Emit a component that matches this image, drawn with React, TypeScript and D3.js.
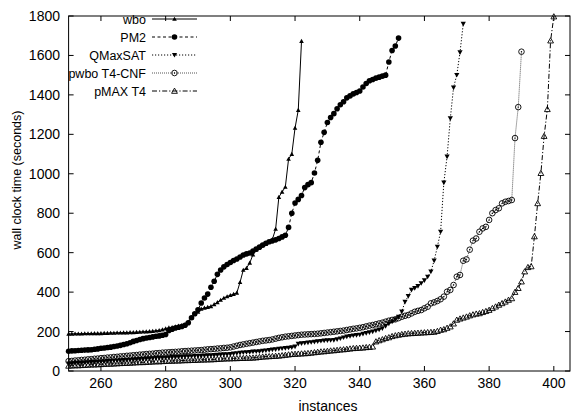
import React from "react";
import * as d3 from "d3";

const START = 250;
const xTicks = [260, 280, 300, 320, 340, 360, 380, 400];
const yTicks = [0, 200, 400, 600, 800, 1000, 1200, 1400, 1600, 1800];

const wbo = [
  188, 188, 189, 189, 189, 190, 190, 190, 191, 191,
  191, 192, 192, 193, 193, 194, 194, 195, 195, 196,
  196, 197, 198, 199, 200, 201, 202, 204, 206, 210,
  215, 220, 222, 226, 229, 232, 236, 250, 270, 288,
  300, 315, 320, 324, 328, 338, 348, 360, 370, 378,
  384, 390, 396, 450, 512, 522, 548, 590, 615, 628,
  638, 645, 655, 668, 720, 882, 908, 933, 1075, 1100,
  1232, 1323, 1673,
];

const pm2 = [
  100, 102, 103, 104, 105, 106, 107, 108, 110, 112,
  115, 117, 119, 121, 124, 127, 130, 134, 138, 143,
  150, 155, 160, 164, 167, 170, 173, 176, 178, 181,
  185, 205, 212, 218, 222, 226, 232, 245, 270, 290,
  310, 345, 370, 390, 425, 455, 490, 512, 528, 540,
  550, 560, 568, 578, 588, 594, 598, 608, 618, 628,
  638, 648, 655, 660, 665, 672, 680, 688, 728, 800,
  852, 870, 890, 930, 945, 955, 1004, 1068, 1160, 1210,
  1260, 1285, 1305, 1330, 1350, 1365, 1385, 1395, 1405, 1412,
  1420, 1440, 1458, 1472, 1478, 1485, 1490, 1495, 1500, 1567,
  1625, 1648, 1688,
];

const qmaxsat = [
  38, 39, 40, 41, 42, 43, 44, 45, 46, 47,
  48, 49, 50, 51, 52, 53, 54, 55, 56, 57,
  58, 59, 60, 61, 62, 63, 64, 65, 66, 67,
  68, 69, 70, 71, 72, 73, 74, 75, 75, 76,
  76, 77, 78, 79, 80, 81, 82, 83, 84, 85,
  86, 88, 90, 92, 94, 95, 96, 98, 99, 100,
  102, 104, 106, 108, 110, 112, 114, 116, 118, 120,
  124, 138, 140, 142, 144, 146, 148, 150, 152, 154,
  155, 156, 157, 160, 165, 170, 174, 177, 180, 182,
  184, 188, 192, 196, 200, 205, 210, 216, 228, 240,
  250, 262, 275, 301, 351, 380, 411, 420, 430, 445,
  460, 478, 504, 560, 630, 706, 955, 1087, 1281, 1437,
  1501, 1616, 1760,
];

const pwbo = [
  50, 51, 53, 54, 56, 57, 59, 60, 62, 63,
  65, 66, 68, 69, 71, 72, 74, 75, 77, 78,
  80, 81, 83, 84, 86, 87, 88, 90, 91, 93,
  94, 95, 96, 97, 98, 100, 101, 102, 103, 104,
  105, 106, 108, 110, 111, 112, 114, 115, 117, 118,
  120, 124, 128, 132, 135, 138, 141, 144, 147, 150,
  153, 155, 157, 160, 164, 168, 171, 174, 176, 178,
  180, 182, 184, 185, 186, 187, 188, 189, 191, 193,
  195, 197, 199, 201, 203, 205, 208, 211, 214, 216,
  219, 222, 226, 230, 233, 237, 241, 245, 250, 255,
  259, 262, 268, 275, 280, 284, 292, 300, 305, 309,
  318, 326, 343, 348, 355, 364, 377, 402, 411, 436,
  478, 487, 559, 566, 615, 661, 672, 706, 723, 731,
  766, 800, 816, 825, 850, 858, 862, 867, 1181, 1338,
  1619,
];

const pmax = [
  26, 27, 28, 28, 29, 30, 31, 32, 32, 33,
  34, 35, 36, 36, 37, 38, 39, 40, 40, 41,
  42, 43, 44, 44, 45, 46, 47, 48, 48, 49,
  50, 51, 51, 52, 52, 53, 54, 54, 55, 55,
  56, 57, 57, 58, 58, 59, 60, 61, 62, 63,
  63, 64, 64, 65, 65, 66, 66, 67, 68, 70,
  72, 73, 74, 75, 76, 77, 79, 81, 83, 85,
  86, 87, 88, 89, 90, 92, 94, 96, 98, 99,
  101, 103, 104, 106, 108, 109, 111, 113, 115, 116,
  117, 118, 120, 121, 123, 149, 155, 160, 166, 170,
  176, 180, 183, 186, 188, 190, 191, 192, 193, 194,
  195, 196, 197, 198, 202, 208, 211, 218, 225, 240,
  259, 265, 270, 275, 281, 286, 290, 292, 298, 303,
  309, 318, 326, 335, 343, 351, 360, 368, 400, 420,
  453, 504, 526, 530, 682, 850, 1003, 1191, 1327, 1675,
  1797,
];

const seriesNames = ["wbo", "PM2", "QMaxSAT", "pwbo T4-CNF", "pMAX T4"];
const seriesValues = [wbo, pm2, qmaxsat, pwbo, pmax];

const W = 571;
const H = 413;
const left = 68.6;
const right = 570;
const top = 16;
const bottom = 371;
const FONT = "'Liberation Sans', Arial, Helvetica, sans-serif";

const styles = [
  { dash: "none", marker: "triUpFilled", color: "#000", width: 1 },
  { dash: "3,2.5", marker: "circleFilled", color: "#000", width: 1 },
  { dash: "1.2,1.8", marker: "triDownFilled", color: "#000", width: 1 },
  { dash: "1,1", marker: "circleDot", color: "#555", width: 1 },
  { dash: "5,2,1.2,2", marker: "triUpOpen", color: "#000", width: 1 },
];

function Marker({ type, x, y }: { type: string; x: number; y: number }) {
  if (type === "triUpFilled") {
    const s = 2.3;
    return <path d={`M${x},${y - s}L${x + s},${y + s * 0.8}L${x - s},${y + s * 0.8}Z`} fill="#000" />;
  }
  if (type === "circleFilled") {
    return <circle cx={x} cy={y} r={2.8} fill="#000" />;
  }
  if (type === "triDownFilled") {
    const s = 2.6;
    return <path d={`M${x},${y + s}L${x + s},${y - s * 0.8}L${x - s},${y - s * 0.8}Z`} fill="#000" />;
  }
  if (type === "circleDot") {
    return (
      <g>
        <circle cx={x} cy={y} r={2.8} fill="none" stroke="#000" strokeWidth={0.9} />
        <circle cx={x} cy={y} r={0.7} fill="#000" />
      </g>
    );
  }
  const s = 2.9;
  return (
    <path
      d={`M${x},${y - s}L${x + s},${y + s * 0.8}L${x - s},${y + s * 0.8}Z`}
      fill="none"
      stroke="#000"
      strokeWidth={0.9}
    />
  );
}

export default function App() {
  const x = d3.scaleLinear().domain([250, 405]).range([left, right]);
  const y = d3.scaleLinear().domain([0, 1800]).range([bottom, top]);
  const line = d3
    .line<number>()
    .x((_, i) => x(START + i))
    .y((d) => y(d));

  const legendY = [19, 37, 55, 73, 91];

  return (
    <svg
      width={W}
      height={H}
      style={{ position: "absolute", left: 0, top: 0, background: "#fff" }}
      fontFamily={FONT}
    >
      <rect x={0} y={0} width={W} height={H} fill="#fff" />
      {xTicks.map((t) => (
        <g key={"xt" + t}>
          <line x1={x(t)} x2={x(t)} y1={bottom} y2={bottom - 5} stroke="#000" />
          <line x1={x(t)} x2={x(t)} y1={top} y2={top + 5} stroke="#000" />
          <text x={x(t)} y={388} fontSize={14} textAnchor="middle">
            {t}
          </text>
        </g>
      ))}
      {yTicks.map((t) => (
        <g key={"yt" + t}>
          <line x1={left} x2={left + 5} y1={y(t)} y2={y(t)} stroke="#000" />
          <line x1={right} x2={right - 5} y1={y(t)} y2={y(t)} stroke="#000" />
          <text x={60} y={y(t) + 5} fontSize={14} textAnchor="end">
            {t}
          </text>
        </g>
      ))}
      <text x={328} y={411} fontSize={14} textAnchor="middle">
        instances
      </text>
      <text transform={`translate(21,180) rotate(-90)`} fontSize={12.5} textAnchor="middle">
        wall clock time (seconds)
      </text>

      {seriesValues.map((vals, si) => (
        <g key={"s" + si}>
          <path
            d={line(vals) || ""}
            fill="none"
            stroke={styles[si].color}
            strokeWidth={styles[si].width}
            strokeDasharray={styles[si].dash}
          />
          {vals.map((v, i) => (
            <Marker key={i} type={styles[si].marker} x={x(START + i)} y={y(v)} />
          ))}
        </g>
      ))}

      {seriesNames.map((name, si) => (
        <g key={"l" + si}>
          <text x={146} y={legendY[si] + 4.5} fontSize={12.5} textAnchor="end">
            {name}
          </text>
          <line
            x1={152}
            x2={197}
            y1={legendY[si]}
            y2={legendY[si]}
            stroke={styles[si].color}
            strokeDasharray={styles[si].dash}
          />
          <Marker type={styles[si].marker} x={174.5} y={legendY[si]} />
        </g>
      ))}

      <rect
        x={left}
        y={top}
        width={right - left}
        height={bottom - top}
        fill="none"
        stroke="#000"
        strokeWidth={1}
      />
    </svg>
  );
}
